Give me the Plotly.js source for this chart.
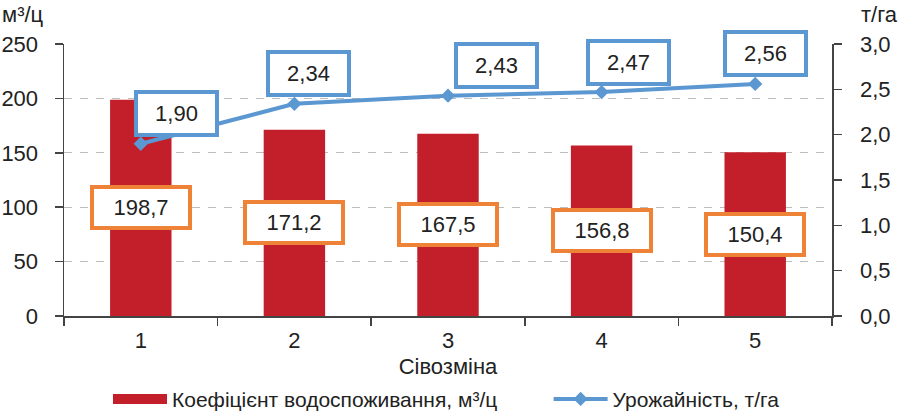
<!DOCTYPE html>
<html>
<head>
<meta charset="utf-8">
<script src="https://cdn.plot.ly/plotly-3.0.1.min.js"></script>
<style>
html,body{margin:0;padding:0;background:#fff;}
#chart{width:900px;height:413px;}
</style>
</head>
<body>
<div id="chart"></div>
<script>
// ---- data ----
var categories = ['1', '2', '3', '4', '5'];
var waterCoef = [198.7, 171.2, 167.5, 156.8, 150.4];
var yieldVals = [1.90, 2.34, 2.43, 2.47, 2.56];
var waterLabels = ['198,7', '171,2', '167,5', '156,8', '150,4'];
var yieldLabels = ['1,90', '2,34', '2,43', '2,47', '2,56'];
var seriesNames = ['Коефіцієнт водоспоживання, м³/ц', 'Урожайність, т/га'];

// ---- styles ----
var FONT = 'Liberation Sans, Arial, Helvetica, sans-serif';
var RED = '#C21F2A';
var BLUE = '#5B97D1';
var ORANGE = '#EE8236';
var TXT = '#222222';
var yieldLabelShiftX = [36, 14, 48, 27, 10];

var traces = [
  {
    type: 'bar',
    name: seriesNames[0],
    x: categories,
    y: waterCoef,
    width: 0.4,
    marker: {color: RED},
    yaxis: 'y',
    showlegend: false
  },
  {
    type: 'scatter',
    mode: 'lines+markers',
    name: seriesNames[1],
    x: categories,
    y: yieldVals,
    yaxis: 'y2',
    line: {color: BLUE, width: 4},
    marker: {symbol: 'diamond', size: 11, color: BLUE},
    legend: 'legend2'
  },
  {
    // legend-only entry mirroring the bar series
    type: 'scatter',
    mode: 'lines',
    name: seriesNames[0],
    x: [null],
    y: [null],
    line: {color: RED, width: 12},
    legend: 'legend'
  }
];

var annotations = [];
categories.forEach(function (c, i) {
  annotations.push({
    x: i, y: waterCoef[i] / 2, xref: 'x', yref: 'y',
    text: waterLabels[i], showarrow: false,
    font: {family: FONT, size: 22, color: TXT},
    bgcolor: '#ffffff', bordercolor: ORANGE, borderwidth: 4, borderpad: 2,
    width: 90, height: 33
  });
  annotations.push({
    x: i, y: yieldVals[i], xref: 'x', yref: 'y2',
    text: yieldLabels[i], showarrow: false,
    xshift: yieldLabelShiftX[i], yshift: 30,
    font: {family: FONT, size: 22, color: TXT},
    bgcolor: '#ffffff', bordercolor: BLUE, borderwidth: 4, borderpad: 2,
    width: 73, height: 35
  });
});
annotations.push({
  xref: 'paper', yref: 'paper', x: -0.083, y: 1.11, xanchor: 'left', yanchor: 'middle',
  text: 'м³/ц', showarrow: false, font: {family: FONT, size: 22, color: TXT}
});
annotations.push({
  xref: 'paper', yref: 'paper', x: 1.088, y: 1.11, xanchor: 'right', yanchor: 'middle',
  text: 'т/га', showarrow: false, font: {family: FONT, size: 22, color: TXT}
});

var legendCommon = {
  orientation: 'h', y: -0.306, xanchor: 'left', yanchor: 'middle',
  font: {family: FONT, size: 21, color: TXT},
  bgcolor: 'rgba(0,0,0,0)',
  itemwidth: 54
};

var layout = {
  width: 900, height: 413,
  margin: {l: 64, r: 68, t: 43.5, b: 96.5, pad: 0, autoexpand: false},
  paper_bgcolor: '#ffffff', plot_bgcolor: '#ffffff',
  separators: ', ',
  font: {family: FONT, size: 22, color: TXT},
  showlegend: true,
  legend: Object.assign({x: 0.0573}, legendCommon),
  legend2: Object.assign({x: 0.631}, legendCommon),
  xaxis: {
    type: 'category',
    range: [-0.5, 4.5],
    tickson: 'boundaries',
    ticks: 'outside', ticklen: 8, tickwidth: 1.5, tickcolor: '#444',
    ticklabelstandoff: 4,
    showline: true, linecolor: '#444', linewidth: 1.5,
    showgrid: false, zeroline: false,
    tickfont: {family: FONT, size: 22, color: TXT},
    title: {text: 'Сівозміна', font: {family: FONT, size: 22, color: TXT}, standoff: 6}
  },
  yaxis: {
    range: [0, 250], dtick: 50, tick0: 0,
    ticks: 'outside', ticklen: 8, tickwidth: 1.5, tickcolor: '#444',
    ticklabelstandoff: 12,
    showline: true, linecolor: '#444', linewidth: 1.5,
    showgrid: true, gridcolor: '#BDBDBD', griddash: '8px,8px', gridwidth: 1.3,
    zeroline: false,
    tickfont: {family: FONT, size: 22, color: TXT}
  },
  yaxis2: {
    overlaying: 'y', side: 'right',
    range: [0, 3], dtick: 0.5, tick0: 0, tickformat: '.1f',
    ticks: 'outside', ticklen: 8, tickwidth: 1.5, tickcolor: '#444',
    ticklabelstandoff: 14,
    showline: true, linecolor: '#444', linewidth: 1.5,
    showgrid: false, zeroline: false,
    tickfont: {family: FONT, size: 22, color: TXT}
  },
  annotations: annotations
};

Plotly.newPlot('chart', traces, layout, {displayModeBar: false, staticPlot: true});
</script>
</body>
</html>
